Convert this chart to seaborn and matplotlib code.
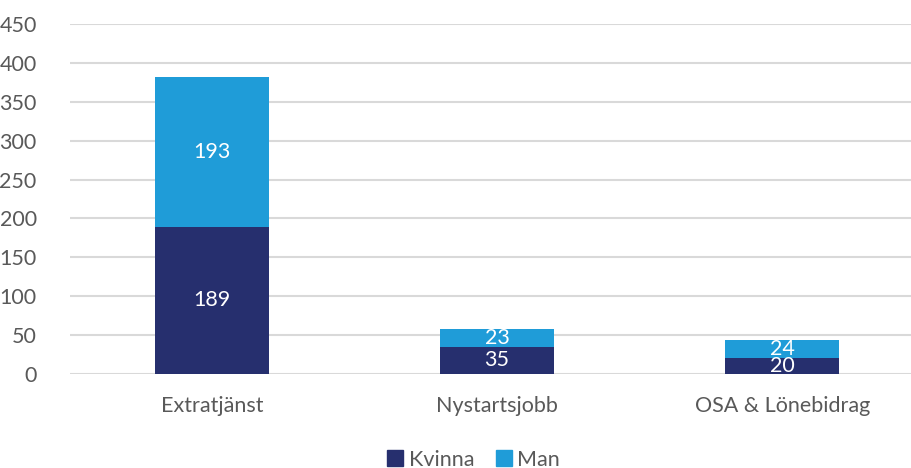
import matplotlib
matplotlib.use("Agg")
import matplotlib.pyplot as plt
import seaborn as sns
import pandas as pd
import numpy as np
from matplotlib.patches import Patch

categories = ["Extratjänst", "Nystartsjobb", "OSA & Lönebidrag"]
kvinna = [189, 35, 20]
man = [193, 23, 24]
yticks = [0, 50, 100, 150, 200, 250, 300, 350, 400, 450]

c_k = "#262F6E"
c_m = "#1F9CD8"
gray = "#595959"

sns.set_theme(style="white")
plt.rcParams['font.family'] = ['Lato', 'DejaVu Sans']

fs = 15.5
fig = plt.figure(figsize=(9.11, 4.68), dpi=100)
ax = fig.add_axes([70/911, 94/468, (911-70)/911, 350/468])

totals = [k + m for k, m in zip(kvinna, man)]
df_tot = pd.DataFrame({"cat": categories, "val": totals})
df_k = pd.DataFrame({"cat": categories, "val": kvinna})
sns.barplot(data=df_tot, x="cat", y="val", color=c_m, saturation=1, width=0.4, ax=ax,
            zorder=3, linewidth=0)
sns.barplot(data=df_k, x="cat", y="val", color=c_k, saturation=1, width=0.4, ax=ax,
            zorder=3, linewidth=0)

for i, (k, m) in enumerate(zip(kvinna, man)):
    ax.text(i, k / 2, str(k), ha="center", va="center", color="white", fontsize=fs, zorder=4)
    ax.text(i, k + m / 2, str(m), ha="center", va="center", color="white", fontsize=fs, zorder=4)

ax.set_ylim(0, 450)
ax.set_xlim(-0.498, 2.452)
ax.set_yticks(yticks)
ax.set_yticklabels([str(t) for t in yticks])
ax.yaxis.grid(True, color="#D9D9D9", linewidth=1.5, zorder=0)
ax.set_axisbelow(True)
for s in ax.spines.values():
    s.set_visible(False)
ax.tick_params(axis="y", length=0, pad=24, labelsize=fs, labelcolor=gray)
ax.tick_params(axis="x", length=0, pad=16, labelsize=fs, labelcolor=gray)
for lbl in ax.get_yticklabels():
    lbl.set_horizontalalignment("right")
ax.set_xlabel("")
ax.set_ylabel("")

handles = [Patch(color=c_k, label="Kvinna"), Patch(color=c_m, label="Man")]
fig.legend(handles=handles, loc="lower center", bbox_to_anchor=(0.52, -0.045), ncol=2, frameon=False,
           fontsize=fs, labelcolor=gray, handlelength=0.75, handleheight=0.75, handletextpad=0.25,
           columnspacing=1.0)

fig.savefig("out.png", dpi=100)
